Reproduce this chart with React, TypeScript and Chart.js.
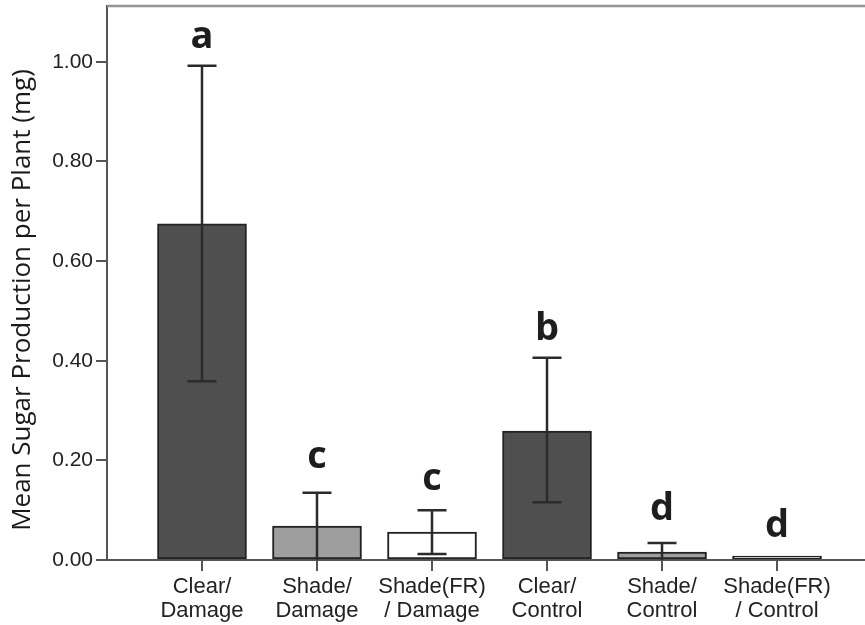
import React, { useEffect, useRef } from "react";
import { Chart, registerables } from "chart.js";

Chart.register(...registerables);

const categories: string[][] = [
  ["Clear/", "Damage"],
  ["Shade/", "Damage"],
  ["Shade(FR)", "/ Damage"],
  ["Clear/", "Control"],
  ["Shade/", "Control"],
  ["Shade(FR)", "/ Control"],
];
const means = [0.675, 0.068, 0.056, 0.259, 0.016, 0.004];
const errLow = [0.359, 0.0, 0.012, 0.116, 0.0, 0.004];
const errHigh = [0.992, 0.135, 0.1, 0.406, 0.034, 0.004];
const barColors = ["#4f4f4f", "#9e9e9e", "#ffffff", "#4f4f4f", "#9e9e9e", "#ffffff"];
const letters = ["a", "c", "c", "b", "d", "d"];
const letterY = [1.028, 0.185, 0.141, 0.442, 0.08, 0.046];
const yTicks = [0, 0.2, 0.4, 0.6, 0.8, 1.0];
const yMax = 1.112;
const xMin = -0.826;
const xMax = 5.765;
const yTitle = "Mean Sugar Production per Plant (mg)";

const extrasPlugin = {
  id: "extras",
  afterDatasetsDraw(chart: any) {
    const { ctx, chartArea, scales } = chart;
    const xs = scales.x;
    const ys = scales.y;
    ctx.save();
    // top frame line
    ctx.strokeStyle = "#949494";
    ctx.lineWidth = 2.5;
    ctx.beginPath();
    ctx.moveTo(chartArea.left, chartArea.top);
    ctx.lineTo(chartArea.right, chartArea.top);
    ctx.stroke();
    // error bars
    ctx.strokeStyle = "#2b2b2b";
    ctx.lineWidth = 2.5;
    const cap = 14.5;
    for (let i = 0; i < means.length; i++) {
      if (errHigh[i] - errLow[i] < 0.004) continue;
      const x = xs.getPixelForValue(i);
      const yh = ys.getPixelForValue(errHigh[i]);
      const yl = ys.getPixelForValue(errLow[i]);
      ctx.beginPath();
      ctx.moveTo(x, yh);
      ctx.lineTo(x, yl);
      ctx.moveTo(x - cap, yh);
      ctx.lineTo(x + cap, yh);
      if (errLow[i] > 0.003) {
        ctx.moveTo(x - cap, yl);
        ctx.lineTo(x + cap, yl);
      }
      ctx.stroke();
    }
    // significance letters
    ctx.fillStyle = "#1e1e1e";
    ctx.font = "bold 38px 'Open Sans'";
    ctx.textAlign = "center";
    ctx.textBaseline = "alphabetic";
    for (let i = 0; i < letters.length; i++) {
      ctx.fillText(letters[i], xs.getPixelForValue(i), ys.getPixelForValue(letterY[i]));
    }
    // y-axis title
    ctx.translate(23, (chartArea.top + chartArea.bottom) / 2 + 17);
    ctx.rotate(-Math.PI / 2);
    ctx.font = "500 26px 'Open Sans'";
    ctx.fillStyle = "#1a1a1a";
    ctx.textBaseline = "middle";
    ctx.fillText(yTitle, 0, 0);
    ctx.restore();
  },
};

export default function App() {
  const ref = useRef<HTMLCanvasElement>(null);
  useEffect(() => {
    if (!ref.current) return;
    const chart = new Chart(ref.current, {
      type: "bar",
      data: {
        datasets: [
          {
            data: means.map((m, i) => ({ x: i, y: m })),
            backgroundColor: barColors,
            borderColor: "#222222",
            borderWidth: 2,
            barThickness: 89,
            minBarLength: 4,
            borderSkipped: false,
          } as any,
        ],
      },
      options: {
        responsive: false,
        animation: false,
        layout: { padding: { top: 6, left: 0, right: 0, bottom: 0 } },
        plugins: { legend: { display: false }, tooltip: { enabled: false } },
        scales: {
          x: {
            type: "linear",
            min: xMin,
            max: xMax,
            offset: false,
            afterBuildTicks: (scale: any) => {
              scale.ticks = categories.map((_, i) => ({ value: i }));
            },
            afterFit: (scale: any) => {
              scale.height = 65;
              scale.paddingLeft = 0;
              scale.paddingRight = 0;
            },
            ticks: {
              autoSkip: false,
              maxRotation: 0,
              padding: 4,
              color: "#222222",
              font: { family: "'Liberation Sans', Arial", size: 22, lineHeight: 1.08 },
              callback: (v: any) => {
                const i = Math.round(Number(v));
                return categories[i] ?? "";
              },
            },
            grid: {
              display: true,
              offset: false,
              drawOnChartArea: false,
              drawTicks: true,
              tickLength: 11,
              color: "#555555",
              lineWidth: 2,
            },
            border: { display: true, color: "#555555", width: 2 },
          } as any,
          y: {
            min: 0,
            max: yMax,
            afterBuildTicks: (scale: any) => {
              scale.ticks = yTicks.map((v) => ({ value: v }));
            },
            afterFit: (scale: any) => {
              scale.width = 107;
              scale.paddingTop = 0;
              scale.paddingBottom = 0;
            },
            ticks: {
              padding: 3,
              color: "#222222",
              font: { family: "'Liberation Sans', Arial", size: 21 },
              callback: (v: any) => Number(v).toFixed(2),
            },
            grid: {
              display: true,
              drawOnChartArea: false,
              drawTicks: true,
              tickLength: 11,
              color: "#555555",
              lineWidth: 2,
            },
            border: { display: true, color: "#555555", width: 2 },
          },
        },
      },
      plugins: [extrasPlugin],
    });
    return () => chart.destroy();
  }, []);
  return (
    <div style={{ position: "absolute", left: 0, top: 0, width: 865, height: 625, background: "#fff" }}>
      <canvas ref={ref} width={865} height={625} />
    </div>
  );
}
